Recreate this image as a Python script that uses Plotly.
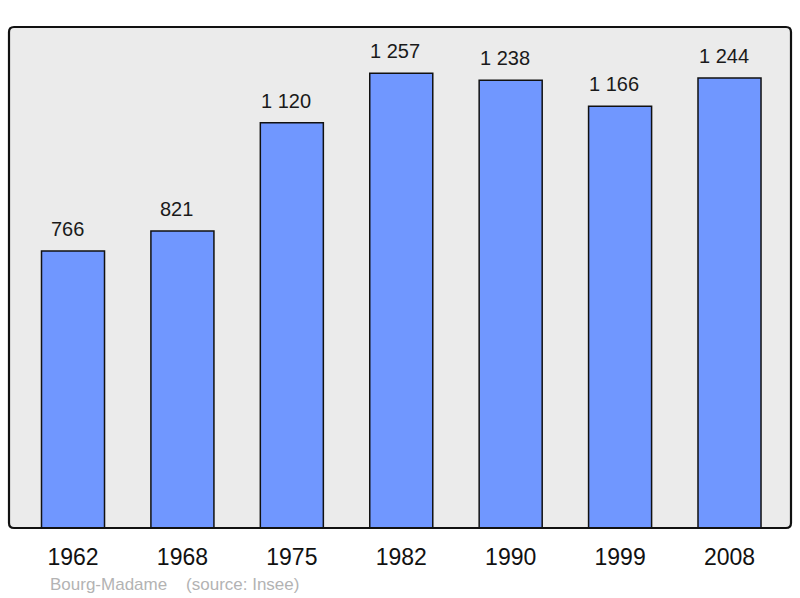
import plotly.graph_objects as go

years = ["1962", "1968", "1975", "1982", "1990", "1999", "2008"]
population = [766, 821, 1120, 1257, 1238, 1166, 1244]
town = "Bourg-Madame"
source = "(source: Insee)"

positions = list(range(len(years)))
labels = [f"{v:,}".replace(",", " ") for v in population]

FONT = "Liberation Sans, Arial, sans-serif"

fig = go.Figure()
fig.add_trace(go.Bar(
    x=positions, y=population, width=0.576,
    marker=dict(color="#7097ff", line=dict(color="#111111", width=1.5)),
    hoverinfo="skip",
))

for x, v, t in zip(positions, population, labels):
    fig.add_annotation(x=x, y=v, text=t, showarrow=False, yanchor="bottom",
                       yshift=9, xshift=-6,
                       font=dict(size=20, color="#1a1a1a", family=FONT))

fig.add_annotation(xref="paper", yref="paper", x=(48 - 9) / 782, y=-(584 - 528) / 501,
                   xanchor="left", yanchor="middle", showarrow=False,
                   text=f"{town}&nbsp;&nbsp;&nbsp;&nbsp;{source}",
                   font=dict(size=17, color="#b3b3b3", family=FONT))

# rounded plot frame
rx = 5 / 782
ry = 5 / 501
path = (f"M {rx},0 L {1-rx},0 Q 1,0 1,{ry} L 1,{1-ry} Q 1,1 {1-rx},1 "
        f"L {rx},1 Q 0,1 0,{1-ry} L 0,{ry} Q 0,0 {rx},0 Z")
fig.add_shape(type="path", xref="paper", yref="paper", path=path,
              line=dict(color="#111111", width=2.2), layer="above")

fig.update_layout(
    width=800, height=598,
    margin=dict(l=9, r=9, t=27, b=70),
    paper_bgcolor="white", plot_bgcolor="#ebebeb",
    showlegend=False,
    font=dict(family=FONT),
    xaxis=dict(range=[-0.585, 6.562], tickvals=positions, ticktext=years,
               showgrid=False, zeroline=False, ticks="outside", ticklen=8,
               tickcolor="rgba(0,0,0,0)", tickfont=dict(size=23, color="#111111"),
               fixedrange=True),
    yaxis=dict(range=[0, 1385], showgrid=False, zeroline=False,
               showticklabels=False, fixedrange=True),
)

fig.write_html("out.html", config={"displayModeBar": False},
               post_script="document.body.style.margin='0';document.body.style.overflow='hidden';")
